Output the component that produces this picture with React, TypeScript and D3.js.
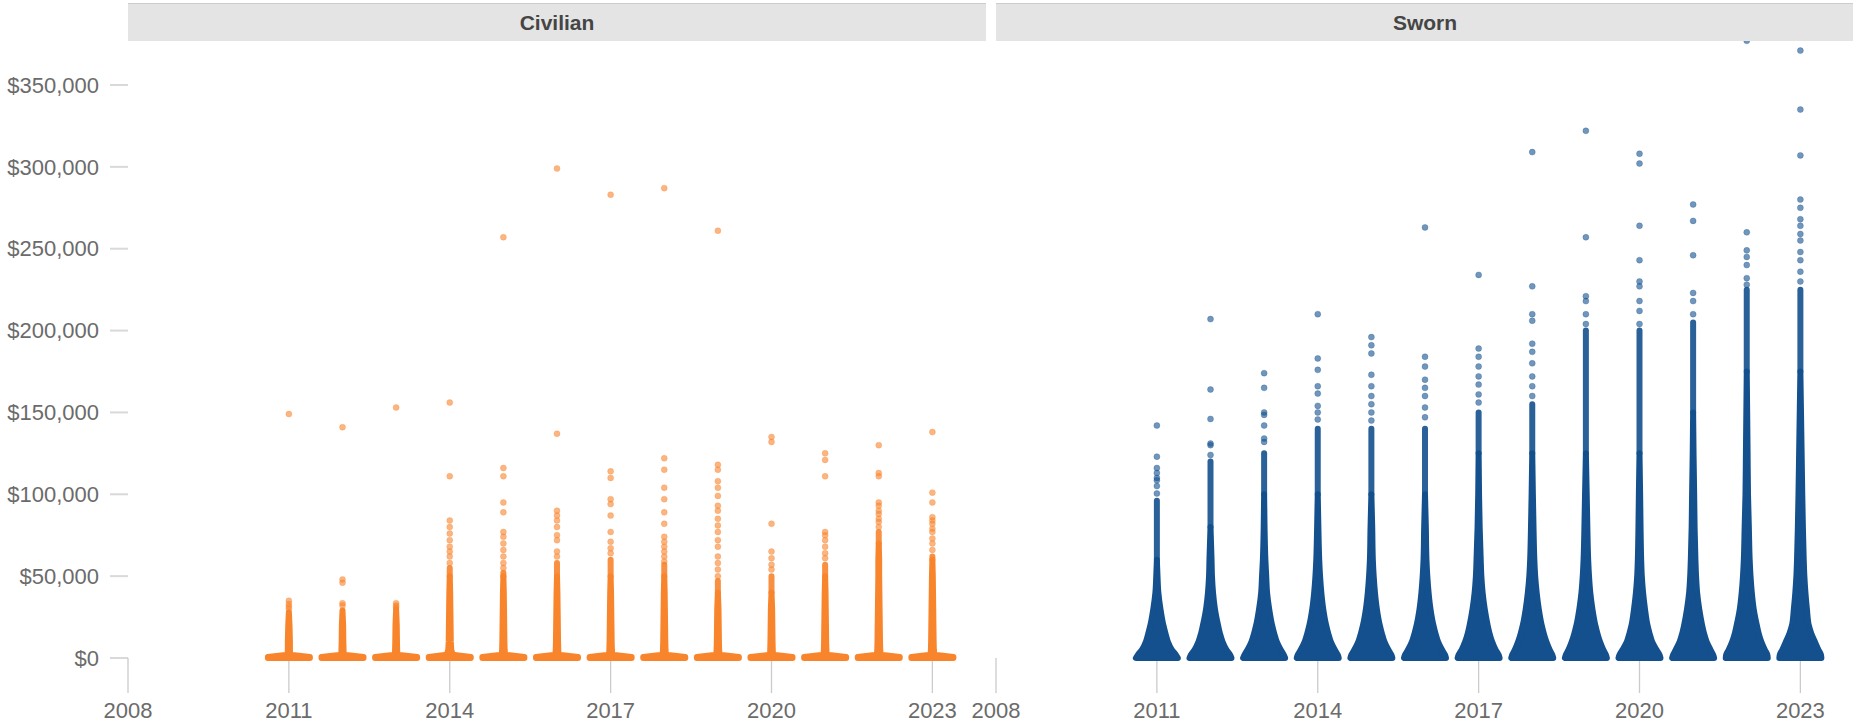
import React from "react";
import * as d3 from "d3";

// ---------------- DATA ----------------
const panels = ["Civilian", "Sworn"];
const years = [2011, 2012, 2013, 2014, 2015, 2016, 2017, 2018, 2019, 2020, 2021, 2022, 2023];
const xTicks = [2008, 2011, 2014, 2017, 2020, 2023];
const yTicks = [0, 50000, 100000, 150000, 200000, 250000, 300000, 350000];

// Civilian: relative density (%) of pay values ($k) at these levels
const civLevels = [0, 0.6, 2, 5, 10, 20, 30, 40, 50, 60, 70];
const civDensity = [
  [100, 100, 6, 5, 5, 3, 0],
  [100, 100, 6, 5, 4, 3, 0],
  [100, 100, 6, 5, 4, 3, 0],
  [100, 100, 14, 7, 5, 4, 3, 2, 1],
  [100, 100, 8, 6, 5, 4, 3, 2, 1],
  [100, 100, 8, 6, 5, 4, 3, 2, 1, 0],
  [100, 100, 8, 6, 5, 4, 3, 2, 1, 0],
  [100, 100, 8, 6, 5, 4, 3, 2, 1, 0],
  [100, 100, 8, 6, 5, 4, 3, 1, 0],
  [100, 100, 7, 6, 5, 4, 3, 1, 0],
  [100, 100, 8, 6, 5, 4, 3, 2, 1, 0],
  [100, 100, 9, 7, 6, 5, 4, 3, 2, 2, 1],
  [100, 100, 9, 7, 6, 5, 4, 3, 2, 1],
];
const civTop = [28, 29, 30, 55, 52, 58, 60, 57, 47, 50, 57, 77, 62];
const civOutliers = [
  [149, 35, 33, 31.5, 30],
  [141, 48, 46, 33.5, 32],
  [153, 33.5, 32, 31],
  [156, 111, 84, 80, 76, 72, 68, 65, 62, 58],
  [257, 116, 111, 95, 89, 77, 74, 70, 66, 62, 58, 55],
  [299, 137, 90, 87, 84, 80, 75, 72, 65, 62],
  [283, 114, 110, 97, 94, 87, 77, 71, 67, 64],
  [287, 122, 115, 104, 97, 89, 82, 74, 71, 68, 65, 62, 59],
  [261, 118, 115, 108, 104, 99, 93, 90, 85, 81, 77, 72, 68, 62, 58, 54, 50],
  [135, 132, 82, 65, 61, 57, 54],
  [125, 121, 111, 77, 75, 72, 68, 64, 61],
  [130, 113, 111, 95, 93, 90, 88, 85, 83, 80],
  [138, 101, 95, 86, 84, 82, 79, 77, 73, 70, 66],
];

// Sworn: relative density (%) at these levels ($k)
const swornLevels = [0, 2, 5, 10, 15, 20, 30, 40, 50, 60, 80, 100, 125, 150, 175, 200, 225];
const swornDensity = [
  [100, 90, 71, 52, 41, 31, 17, 7, 3, 1, 0, 0],
  [100, 93, 76, 57, 45, 36, 21, 12, 7, 5, 1, 0, 0],
  [100, 93, 79, 60, 48, 38, 24, 14, 10, 6, 2, 1, 0],
  [100, 95, 81, 62, 50, 40, 26, 17, 11, 7, 3, 1, 0, 0],
  [100, 95, 81, 62, 50, 40, 26, 17, 11, 7, 4, 1, 0, 0],
  [100, 95, 81, 62, 50, 40, 26, 17, 11, 7, 4, 1, 0, 0],
  [100, 95, 81, 64, 52, 43, 29, 19, 13, 10, 5, 2, 1, 0],
  [100, 95, 83, 67, 55, 45, 31, 21, 14, 10, 6, 3, 1, 0],
  [100, 95, 83, 67, 55, 45, 31, 21, 15, 11, 7, 4, 1, 0, 0, 0],
  [100, 95, 81, 60, 48, 38, 26, 17, 11, 8, 5, 3, 1, 0, 0, 0],
  [100, 95, 83, 64, 52, 43, 29, 19, 14, 11, 7, 5, 2, 1, 0, 0],
  [100, 98, 86, 69, 57, 48, 33, 24, 18, 14, 10, 6, 4, 2, 1, 0, 0],
  [100, 98, 86, 69, 52, 40, 31, 24, 19, 16, 12, 9, 6, 3, 1, 0, 0],
];
const swornTop = [96, 120, 125, 140, 140, 140, 150, 155, 200, 200, 205, 225, 225];
const swornOutliers = [
  [142, 123, 116, 113, 110, 108.5, 105, 100.5],
  [207, 164, 146, 131, 130, 124],
  [174, 165, 150, 148.5, 142, 134, 132],
  [210, 183, 176, 166, 161.5, 154, 150, 145.7],
  [196, 191, 186, 173, 166, 160, 155, 150, 145],
  [263, 184, 178, 170, 165, 160, 153, 147],
  [234, 189, 184, 178, 172, 167, 161, 156],
  [309, 227, 210, 206, 192, 187, 180, 172, 166, 160],
  [322, 257, 221, 218, 210, 204],
  [308, 302, 264, 243, 230, 227, 218, 212, 204],
  [277, 267, 246, 223, 218, 210],
  [377, 260, 249, 245, 240, 232, 228],
  [371, 335, 307, 280, 275, 268, 264, 259, 255, 248, 243, 236, 230],
];

const colors = ["#F8842C", "#13508D"];

// ---------------- LAYOUT ----------------
const W = 1853;
const H = 724;
const panelRanges: [number, number][] = [
  [128, 986],
  [996, 1854],
];
const y = d3.scaleLinear().domain([0, 350000]).range([658, 85]);
const wScale = d3.scaleLinear().domain([0, 100]).range([0, 21]);
const fmt = d3.format("$,.0f");
const FONT = "'Liberation Sans', Arial, Helvetica, sans-serif";

type P = { v: number; d: number };

// dense part: levels until density first drops to <= 1 ; beaded part: from there to top
function profile(levels: number[], dens: number[], top: number): { dense: P[]; beadFrom: number } {
  const pts: P[] = [];
  for (let j = 0; j < levels.length; j++) {
    const v = levels[j] * 1000;
    const d = dens[j] ?? 0;
    if (v >= top * 1000) {
      pts.push({ v: top * 1000, d: 0 });
      return { dense: pts, beadFrom: top * 1000 };
    }
    if (d <= 1 && j > 1) {
      pts.push({ v, d: 0 });
      return { dense: pts, beadFrom: v };
    }
    pts.push({ v, d });
  }
  pts.push({ v: top * 1000, d: 0 });
  return { dense: pts, beadFrom: top * 1000 };
}

export default function App() {
  const datasets = [
    { levels: civLevels, dens: civDensity, top: civTop, out: civOutliers, curve: d3.curveLinear },
    { levels: swornLevels, dens: swornDensity, top: swornTop, out: swornOutliers, curve: d3.curveMonotoneY },
  ];
  return (
    <svg
      width={W}
      height={H}
      style={{ position: "absolute", left: 0, top: 0, background: "#fff" }}
      fontFamily={FONT}
    >
      <defs>
        <clipPath id="plotclip">
          <rect x={0} y={41} width={W} height={H - 41} />
        </clipPath>
      </defs>

      {/* Y axis (left panel only) */}
      <g>
        {yTicks.map((t) => (
          <g key={t}>
            <line x1={110} x2={128} y1={y(t)} y2={y(t)} stroke="#d9d9d9" strokeWidth={2} />
            <text x={99} y={y(t)} dy="0.35em" textAnchor="end" fontSize={22} fill="#6b6b6b">
              {fmt(t)}
            </text>
          </g>
        ))}
      </g>

      {panels.map((name, pi) => {
        const x = d3.scaleLinear().domain([2008, 2024]).range(panelRanges[pi]);
        const ds = datasets[pi];
        const color = colors[pi];
        return (
          <g key={name}>
            {/* x axis */}
            {xTicks.map((t) => (
              <g key={t}>
                <line x1={x(t)} x2={x(t)} y1={658} y2={693} stroke="#cbcbcb" strokeWidth={1.3} />
                <text x={x(t)} y={718} textAnchor="middle" fontSize={22} fill="#6b6b6b">
                  {t}
                </text>
              </g>
            ))}
            <g clipPath="url(#plotclip)">
              {years.map((yr, i) => {
                const cx = x(yr);
                const { dense, beadFrom } = profile(ds.levels, ds.dens[i], ds.top[i]);
                const area = d3
                  .area<P>()
                  .y((p) => y(p.v))
                  .x0((p) => cx - wScale(p.d))
                  .x1((p) => cx + wScale(p.d))
                  .curve(ds.curve);
                return (
                  <g key={yr}>
                    <path
                      d={area(dense) || ""}
                      fill={color}
                      stroke={color}
                      strokeWidth={6}
                      strokeLinejoin="round"
                      strokeLinecap="round"
                    />
                    {beadFrom < ds.top[i] * 1000 && (
                      <line
                        x1={cx}
                        x2={cx}
                        y1={y(beadFrom)}
                        y2={y(ds.top[i] * 1000)}
                        stroke={color}
                        strokeOpacity={0.9}
                        strokeWidth={6}
                        strokeLinecap="round"
                      />
                    )}
                    {ds.out[i].map((v, k) => (
                      <circle
                        key={k}
                        cx={cx}
                        cy={y(v * 1000)}
                        r={3}
                        fill={color}
                        fillOpacity={0.6}
                        stroke={color}
                        strokeOpacity={0.35}
                        strokeWidth={0.8}
                      />
                    ))}
                  </g>
                );
              })}
            </g>
            {/* strip header */}
            <rect
              x={panelRanges[pi][0]}
              y={3}
              width={panelRanges[pi][1] - panelRanges[pi][0]}
              height={38}
              fill="#e4e4e4"
            />
            <line
              x1={panelRanges[pi][0]}
              x2={panelRanges[pi][1]}
              y1={3.5}
              y2={3.5}
              stroke="#cdcdcd"
              strokeWidth={1}
            />
            <text
              x={(panelRanges[pi][0] + panelRanges[pi][1]) / 2}
              y={22.5}
              dy="0.35em"
              textAnchor="middle"
              fontSize={21}
              fontWeight="bold"
              fill="#454545"
            >
              {name}
            </text>
          </g>
        );
      })}
    </svg>
  );
}
